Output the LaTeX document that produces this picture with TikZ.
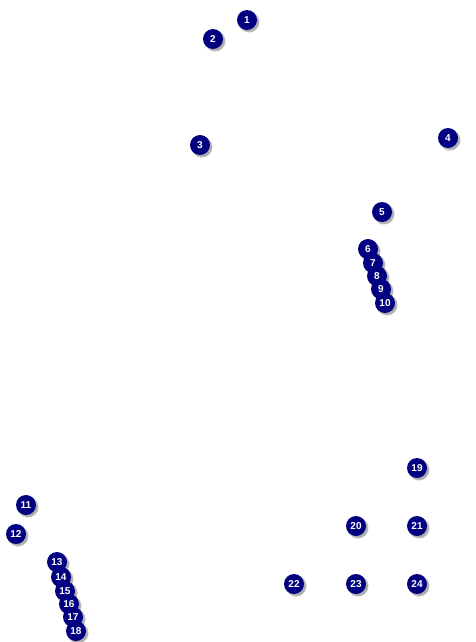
\documentclass[tikz,border=0pt]{standalone}
\usepackage{fontspec}
\setmainfont{Liberation Sans}
\usetikzlibrary{shadows}
\definecolor{navy}{HTML}{000080}
\tikzset{
  marker/.style={circle, fill=navy, minimum size=20pt, inner sep=0pt,
    text=white, font=\bfseries\fontsize{10}{10}\selectfont,
    circular drop shadow={shadow xshift=1.6pt, shadow yshift=-1.6pt, fill=black!45, opacity=0.7}}
}
\begin{document}
\begin{tikzpicture}[x=1pt,y=-1pt]
\useasboundingbox (0,0) rectangle (475,642);
\foreach \n/\px/\py in {1/247/20, 2/213/39, 3/200/145, 4/448/138, 5/382/212,
  6/368/249, 7/373/263, 8/377/276, 9/381/289, 10/385/303,
  11/26/505, 12/16/534,
  13/57/562, 14/61/577, 15/65/591, 16/69/604, 17/73/617, 18/76/631,
  19/417/468, 20/356/526, 21/417/526, 22/294/584, 23/356/584, 24/417/584}
  \node[marker] (n\n) at (\px,\py) {\n};
\end{tikzpicture}
\end{document}
